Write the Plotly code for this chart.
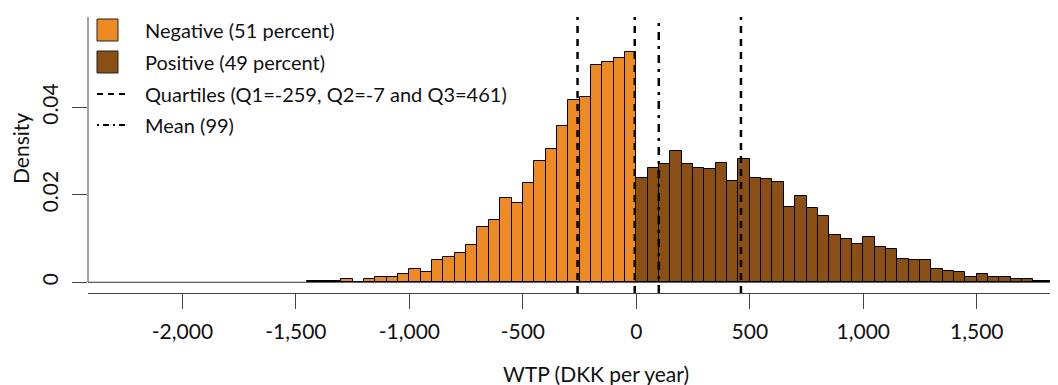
import plotly.graph_objects as go

# ---------------- data ----------------
bin_width = 50
neg_left = [-1450, -1400, -1350, -1300, -1250, -1200, -1150, -1100, -1050, -1000,
            -950, -900, -850, -800, -750, -700, -650, -600, -550, -500,
            -450, -400, -350, -300, -250, -200, -150, -100, -50]
neg_density = [0.0004, 0.0004, 0.0004, 0.0007, 0.0, 0.0007, 0.0011, 0.0011, 0.0019, 0.0030,
               0.0023, 0.0050, 0.0057, 0.0066, 0.0085, 0.0127, 0.0142, 0.0192, 0.0181, 0.0226,
               0.0278, 0.0305, 0.0358, 0.0416, 0.0423, 0.0497, 0.0504, 0.0512, 0.0527]

pos_left = [0, 50, 100, 150, 200, 250, 300, 350, 400, 450,
            500, 550, 600, 650, 700, 750, 800, 850, 900, 950,
            1000, 1050, 1100, 1150, 1200, 1250, 1300, 1350, 1400, 1450,
            1500, 1550, 1600, 1650, 1700, 1750, 1800, 1850]
pos_density = [0.0238, 0.0261, 0.0270, 0.0300, 0.0270, 0.0261, 0.0258, 0.0273, 0.0231, 0.0281,
               0.0238, 0.0235, 0.0228, 0.0173, 0.0197, 0.0169, 0.0151, 0.0107, 0.0100, 0.0088,
               0.0104, 0.0081, 0.0077, 0.0054, 0.0050, 0.0050, 0.0030, 0.0026, 0.0023, 0.0011,
               0.0019, 0.0011, 0.0011, 0.0007, 0.0007, 0.0003, 0.0003, 0.0003]

quartiles = [-259, -7, 461]
mean_value = 99

x_tickvals = [-2000, -1500, -1000, -500, 0, 500, 1000, 1500]
x_ticktext = ["-2,000", "-1,500", "-1,000", "-500", "0", "500", "1,000", "1,500"]
y_tickvals = [0, 0.02, 0.04]
y_ticktext = ["0", "0.02", "0.04"]

legend_labels = ["Negative (51 percent)", "Positive (49 percent)",
                 "Quartiles (Q1=-259, Q2=-7 and Q3=461)", "Mean (99)"]

# ---------------- style ----------------
ORANGE = "#EE8A23"
BROWN = "#8A4F15"
FONT = "Lato"
FS_LEG = 20
FS_TICK = 21
FS_TITLE = 21
PAGE = 8                      # default body margin of the page
W, H = 1058 - PAGE, 385 - PAGE
L, R, T, B = 88 - PAGE, 0, 17 - PAGE, 92
XR = [-2416, 1858]
YR = [-0.00245, 0.0606]

def px_x(px):
    # px given in page (screenshot) coordinates
    return (px - PAGE - L) / (W - L - R)

def px_y(py):
    return (H - B - (py - PAGE)) / (H - T - B)

fig = go.Figure()
fig.add_trace(go.Bar(x=neg_left, y=neg_density, width=bin_width, offset=0,
                     marker=dict(color=ORANGE, line=dict(color="black", width=1)),
                     showlegend=False))
fig.add_trace(go.Bar(x=pos_left, y=pos_density, width=bin_width, offset=0,
                     marker=dict(color=BROWN, line=dict(color="black", width=1)),
                     showlegend=False))

shapes = []
shapes.append(dict(type="line", xref="paper", yref="y", x0=0, x1=1, y0=0, y1=0,
                   line=dict(color="#333", width=1), layer="below"))
shapes.append(dict(type="line", xref="paper", yref="y", x0=0, x1=0, y0=0, y1=YR[1],
                   line=dict(color="#444", width=1)))
for q in quartiles:
    shapes.append(dict(type="line", xref="x", yref="paper", x0=q, x1=q, y0=0, y1=1,
                       line=dict(color="black", width=2.5, dash="7px,6px")))
shapes.append(dict(type="line", xref="x", yref="paper", x0=mean_value, x1=mean_value, y0=0, y1=1,
                   line=dict(color="black", width=2.5, dash="8px,6px,3px,6px")))

row_y = [30, 62, 94, 125]
for i, col in enumerate([ORANGE, BROWN]):
    shapes.append(dict(type="rect", xref="paper", yref="paper",
                       x0=px_x(97), x1=px_x(118), y0=px_y(row_y[i] - 11), y1=px_y(row_y[i] + 11),
                       fillcolor=col, line=dict(color="#222", width=1)))
shapes.append(dict(type="line", xref="paper", yref="paper", x0=px_x(97), x1=px_x(126),
                   y0=px_y(row_y[2]), y1=px_y(row_y[2]),
                   line=dict(color="black", width=2, dash="6px,5px")))
shapes.append(dict(type="line", xref="paper", yref="paper", x0=px_x(97), x1=px_x(126),
                   y0=px_y(row_y[3]), y1=px_y(row_y[3]),
                   line=dict(color="black", width=2, dash="2px,4px,6px,4px")))

annotations = []
for lab, ry in zip(legend_labels, row_y):
    annotations.append(dict(text=lab, xref="paper", yref="paper", x=px_x(143), y=px_y(ry),
                            xanchor="left", yanchor="middle", showarrow=False,
                            font=dict(family=FONT, size=FS_LEG, color="#111")))
annotations.append(dict(text="Density", xref="paper", yref="paper", x=px_x(20), y=px_y(149),
                        xanchor="center", yanchor="middle", textangle=-90, showarrow=False,
                        font=dict(family=FONT, size=FS_TITLE, color="#111")))
annotations.append(dict(text="WTP (DKK per year)", xref="paper", yref="paper", x=px_x(596), y=px_y(373),
                        xanchor="center", yanchor="middle", showarrow=False,
                        font=dict(family=FONT, size=FS_TITLE, color="#111")))

fig.update_layout(
    width=W, height=H, margin=dict(l=L, r=R, t=T, b=B),
    plot_bgcolor="white", paper_bgcolor="white",
    barmode="overlay", bargap=0, showlegend=False,
    shapes=shapes, annotations=annotations,
    xaxis=dict(range=XR, tickvals=x_tickvals, ticktext=x_ticktext, showgrid=False, zeroline=False,
               showline=True, linecolor="#444", linewidth=1, ticks="outside", ticklen=15,
               tickcolor="#444", ticklabelstandoff=5,
               tickfont=dict(family=FONT, size=FS_TICK, color="#111")),
    yaxis=dict(range=YR, tickvals=y_tickvals, ticktext=y_ticktext, showgrid=False, zeroline=False,
               showline=False, ticks="outside", ticklen=15, tickcolor="#444", tickangle=-90,
               ticklabelstandoff=6,
               tickfont=dict(family=FONT, size=FS_TICK, color="#111")),
)

fig.write_html("out.html")
